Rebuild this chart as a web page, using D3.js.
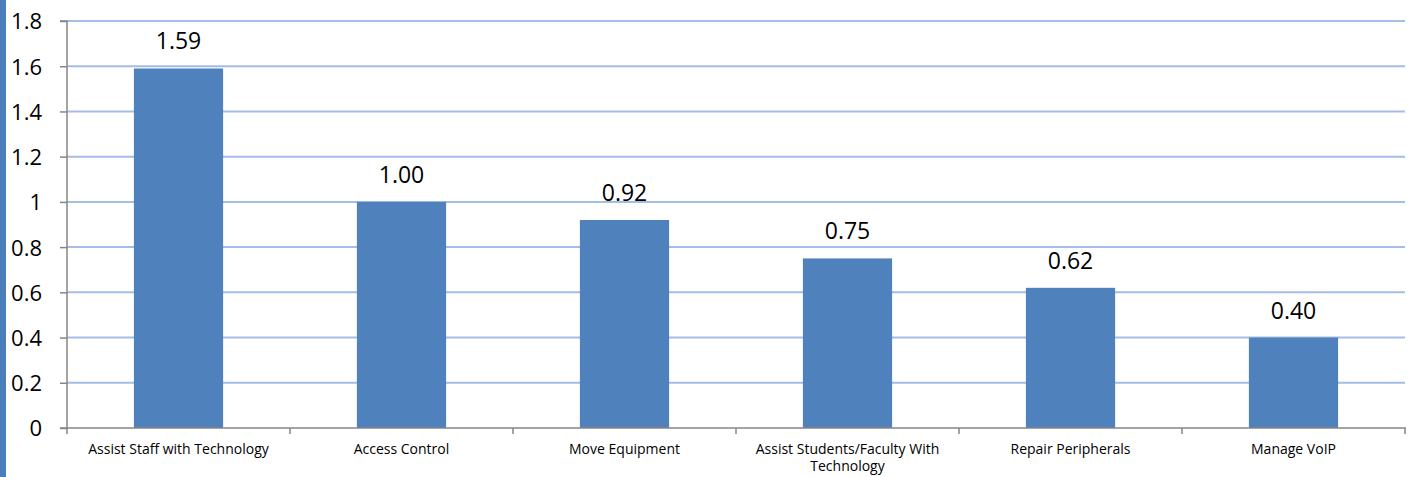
<!DOCTYPE html>
<html><head><meta charset="utf-8">
<script src="https://cdn.jsdelivr.net/npm/d3@7"></script>
<style>body{margin:0;background:#fff;overflow:hidden}</style>
</head><body>
<svg id="c" width="1415" height="477"></svg>
<script>
const categories = ["Assist Staff with Technology","Access Control","Move Equipment","Assist Students/Faculty With Technology","Repair Peripherals","Manage VoIP"];
const values = [1.59,1.00,0.92,0.75,0.62,0.40];
const yTicks = [0,0.2,0.4,0.6,0.8,1,1.2,1.4,1.6,1.8];

const svg = d3.select("#c");
const font = "'Open Sans', Lato, sans-serif";
const m = {left:67, right:1405, top:21, bottom:428};

svg.append("rect").attr("x",0).attr("y",0).attr("width",6).attr("height",477).attr("fill","#4a7ebb");

const xb = d3.scaleBand().domain(categories).range([m.left,m.right]);
const y = d3.scaleLinear().domain([0,1.8]).range([m.bottom,m.top]);

// gridlines
svg.append("g").selectAll("line").data(yTicks.filter(d=>d>0)).join("line")
  .attr("x1",m.left).attr("x2",m.right).attr("y1",d=>y(d)).attr("y2",d=>y(d))
  .attr("stroke","#a5bde6").attr("stroke-width",2);

// bars
svg.append("g").selectAll("rect").data(values).join("rect")
  .attr("x",(d,i)=>xb(categories[i])+xb.bandwidth()*0.3)
  .attr("width",xb.bandwidth()*0.4)
  .attr("y",d=>y(d)).attr("height",d=>y(0)-y(d))
  .attr("fill","#4f81bd");

// y axis
const ya = svg.append("g").attr("transform",`translate(${m.left},0)`)
  .call(d3.axisLeft(y).tickValues(yTicks).tickSize(7).tickPadding(18).tickFormat(d=>d3.format("")(+d.toFixed(1))));
ya.select(".domain").attr("stroke","#868686").attr("stroke-width",1.5).attr("d",`M-7,${m.top}H0V${m.bottom}H-7`);
ya.selectAll(".tick line").attr("stroke","#868686").attr("stroke-width",1.5);
ya.selectAll(".tick text").attr("font-family",font).attr("font-size",22).attr("fill","#000").attr("dy","0.36em");

// x axis
svg.append("line").attr("x1",m.left).attr("x2",m.right+1).attr("y1",y(0)).attr("y2",y(0)).attr("stroke","#868686").attr("stroke-width",1.5);
const bounds = categories.map(c=>xb(c)).concat([m.right]);
svg.append("g").selectAll("line").data(bounds).join("line")
  .attr("x1",d=>d).attr("x2",d=>d).attr("y1",y(0)).attr("y2",y(0)+6)
  .attr("stroke","#868686").attr("stroke-width",1.5);

// category labels
const cl = svg.append("g").selectAll("text").data(categories).join("text")
  .attr("x",d=>xb(d)+xb.bandwidth()/2).attr("y",454)
  .attr("text-anchor","middle").attr("font-family",font).attr("font-size",14).attr("fill","#000");
cl.each(function(d){
  const t=d3.select(this);
  if(d.length>30){
    const parts=["Assist Students/Faculty With","Technology"];
    parts.forEach((p,i)=>t.append("tspan").attr("x",xb(d)+xb.bandwidth()/2).attr("dy",i?17:0).text(p));
  } else t.text(d);
});

// value labels
svg.append("g").selectAll("text").data(values).join("text")
  .attr("x",(d,i)=>xb(categories[i])+xb.bandwidth()/2)
  .attr("y",d=>y(d)-19)
  .attr("text-anchor","middle").attr("font-family",font).attr("font-size",23).attr("fill","#000")
  .text(d=>d.toFixed(2));
</script>
</body></html>
